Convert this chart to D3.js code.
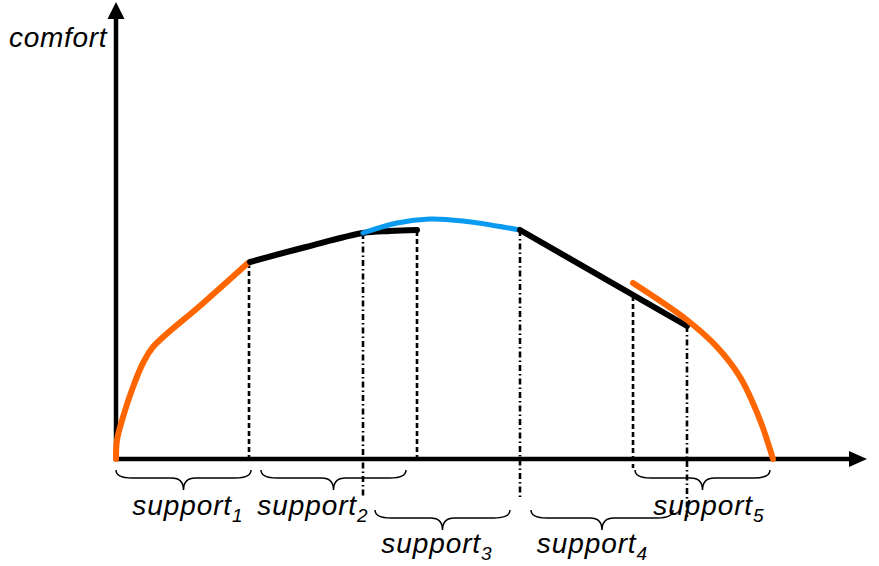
<!DOCTYPE html>
<html>
<head>
<meta charset="utf-8">
<script src="https://cdn.jsdelivr.net/npm/d3@7"></script>
<style>
  html, body { margin: 0; padding: 0; background: #fff; }
  svg { display: block; }
  text { font-family: "Liberation Sans", Arial, Helvetica, sans-serif; font-style: italic; fill: #000; }
</style>
</head>
<body>
<svg id="chart" width="879" height="566"></svg>
<script>
// ---------- data (x = position along the support axis, y = comfort) ----------
const yLabel = "comfort";
const supportNames = ["support", "support", "support", "support", "support"];
const supportSubs = ["1", "2", "3", "4", "5"];

const orangeLeft = [[0,0],[1,19],[7,42],[17,72],[27,96],[37,112],[85,154],[132,196]];
const blackLeft  = [[134,197],[190,212],[247,226],[274,228],[301,229]];
const blueTop    = [[247,226],[281,236],[314,240],[347,238],[404,229]];
const blackRight = [[404,229],[571,133]];
const orangeRight= [[517,176],[571,139],[601,112],[624,82],[644,39],[657,0]];

// boundaries: [x, top comfort, bottom value below axis, style]
const boundaryX     = [133, 247, 301, 404, 517, 571];
const boundaryTop   = [196, 226, 228, 229, 163, 133];
const boundaryLow   = [0, -38, 0, -38, -9, -58];
const boundaryDash  = ["dash", "dashdot", "dash", "dashdot", "dash", "dashdot"];

// support braces (extent along x)
const braceStart = [0, 145, 259, 415, 519];
const braceEnd   = [135, 290, 394, 557, 654];
const braceRow   = [0, 0, 1, 1, 0];

// ---------- drawing ----------
const svg = d3.select("#chart");
const x = d3.scaleLinear().domain([0, 750]).range([116, 866]);
const y = d3.scaleLinear().domain([0, 457]).range([459, 2]);

const line = d3.line().x(d => x(d[0])).y(d => y(d[1])).curve(d3.curveCatmullRom.alpha(0.5));

// boundaries
const dashes = { dash: "5,3", dashdot: "6,3,1.5,3" };
svg.append("g").selectAll("line").data(boundaryX).join("line")
  .attr("x1", d => x(d)).attr("x2", d => x(d))
  .attr("y1", (d, i) => y(boundaryTop[i]))
  .attr("y2", (d, i) => y(boundaryLow[i]))
  .attr("stroke", "#000").attr("stroke-width", 2.6)
  .attr("stroke-dasharray", (d, i) => dashes[boundaryDash[i]]);

// axes
const axisG = svg.append("g");
axisG.append("line").attr("x1", x(0)).attr("x2", x(735)).attr("y1", y(0)).attr("y2", y(0))
  .attr("stroke", "#000").attr("stroke-width", 4.5);
axisG.append("line").attr("x1", x(0)).attr("x2", x(0)).attr("y1", y(0) + 2).attr("y2", y(442))
  .attr("stroke", "#000").attr("stroke-width", 4.5);
axisG.append("path")
  .attr("d", `M${x(751)},${y(0)} L${x(733)},${y(0) - 8} L${x(733)},${y(0) + 8} Z`).attr("fill", "#000");
axisG.append("path")
  .attr("d", `M${x(0)},${y(457)} L${x(0) - 8.5},${y(440)} L${x(0) + 8.5},${y(440)} Z`).attr("fill", "#000");

// curves
const curves = [
  { d: orangeLeft, c: "#FF6600", w: 6 },
  { d: blackLeft, c: "#000000", w: 6 },
  { d: blueTop, c: "#0A9BF0", w: 5 },
  { d: blackRight, c: "#000000", w: 6 },
  { d: orangeRight, c: "#FF6600", w: 6 }
];
svg.append("g").selectAll("path").data(curves).join("path")
  .attr("d", d => line(d.d))
  .attr("fill", "none")
  .attr("stroke", d => d.c)
  .attr("stroke-width", d => d.w)
  .attr("stroke-linecap", "round")
  .attr("stroke-linejoin", "round");

// braces
const rowTop = [470, 510];
function brace(x1, x2, top) {
  const q = 8, h = 20, r = 16, m = (x1 + x2) / 2;
  return `M${x1},${top} Q${x1},${top + q} ${x1 + r},${top + q} L${m - 12},${top + q} ` +
         `Q${m},${top + q} ${m},${top + h} Q${m},${top + q} ${m + 12},${top + q} ` +
         `L${x2 - r},${top + q} Q${x2},${top + q} ${x2},${top}`;
}
svg.append("g").selectAll("path").data(braceStart).join("path")
  .attr("d", (d, i) => brace(x(d), x(braceEnd[i]), rowTop[braceRow[i]]))
  .attr("fill", "none").attr("stroke", "#000").attr("stroke-width", 1.5);

// labels
const rowBase = [515, 553];
const labelShift = [4, -21, -6, -10, 6];
const lbl = svg.append("g").selectAll("text").data(supportNames).join("text")
  .attr("x", (d, i) => (x(braceStart[i]) + x(braceEnd[i])) / 2 + labelShift[i])
  .attr("y", (d, i) => rowBase[braceRow[i]])
  .attr("text-anchor", "middle")
  .style("font-size", "28px")
  .style("letter-spacing", "0.9px");
lbl.append("tspan").text(d => d);
lbl.append("tspan").text((d, i) => supportSubs[i])
  .attr("dy", 7).style("font-size", "19px").style("letter-spacing", "0px");

svg.append("text").attr("x", 9).attr("y", 47)
  .style("font-size", "28px").style("letter-spacing", "0.7px").text(yLabel);
</script>
</body>
</html>
